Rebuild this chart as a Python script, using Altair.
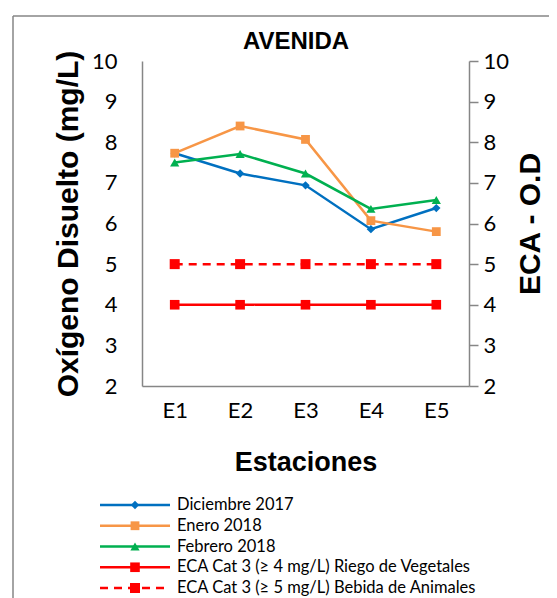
import altair as alt
import pandas as pd

stations = ["E1", "E2", "E3", "E4", "E5"]
series = ["Diciembre 2017", "Enero 2018", "Febrero 2018",
          "ECA Cat 3 (≥ 4 mg/L) Riego de Vegetales",
          "ECA Cat 3 (≥ 5 mg/L) Bebida de Animales"]
legend_labels = ["Diciembre 2017", "\u00a0Enero 2018", "Febrero 2018",
                 "ECA Cat 3 (≥ 4 mg/L) Riego de Vegetales",
                 "ECA Cat 3 (≥ 5 mg/L) Bebida de Animales"]
diciembre = [7.73, 7.23, 6.94, 5.86, 6.38]
enero = [7.73, 8.40, 8.07, 6.07, 5.80]
febrero = [7.50, 7.71, 7.23, 6.36, 6.58]
eca_riego = [4, 4, 4, 4, 4]
eca_bebida = [5, 5, 5, 5, 5]
chart_title = ["AVENIDA"]

colors = ["#0070C0", "#F79646", "#00B050", "#FF0000", "#FF0000"]
shapes = ["diamond", "square", "triangle-up", "square", "square"]
sizes = [70, 100, 95, 100, 100]
dashes = [[1, 0], [1, 0], [1, 0], [1, 0], [8, 6]]

rows = []
for name, vals in zip(series[:3], [diciembre, enero, febrero]):
    for s, v in zip(stations, vals):
        rows.append({"serie": name, "estacion": s, "valor": v})
df_m = pd.DataFrame(rows)
rows = []
for name, vals in zip(series[3:], [eca_riego, eca_bebida]):
    for s, v in zip(stations, vals):
        rows.append({"serie": name, "estacion": s, "valor": v})
df_e = pd.DataFrame(rows)
df_leg = pd.DataFrame({"serie": series, "label": legend_labels})

GRAY = "#868686"
TF = "Liberation Sans"
LF = "Lato"

color = alt.Color("serie:N", scale=alt.Scale(domain=series, range=colors), legend=None)
shape = alt.Shape("serie:N", scale=alt.Scale(domain=series, range=shapes), legend=None)
size = alt.Size("serie:O", scale=alt.Scale(domain=series, range=sizes), legend=None)
dash = alt.StrokeDash("serie:N", scale=alt.Scale(domain=series, range=dashes), legend=None)

x = alt.X("estacion:N", sort=stations, scale=alt.Scale(domain=stations),
          axis=alt.Axis(title="Estaciones", labelAngle=0, ticks=False, tickSize=0,
                        domainColor=GRAY, domainWidth=1.5, labelFont=LF, labelFontSize=22,
                        labelColor="black", labelPadding=14, titleFont=TF, titleFontSize=27,
                        titleFontWeight="bold", titleColor="black", titlePadding=28,
                        grid=False))

left_axis = alt.Axis(title="Oxígeno Disuelto (mg/L)", values=list(range(2, 11)), grid=False,
                     ticks=False, tickSize=0, domainColor=GRAY, domainWidth=1.5,
                     labelFont=LF, labelFontSize=22, labelColor="black", labelPadding=25,
                     titleFont=TF, titleFontSize=30, titleFontWeight="bold",
                     titleColor="black", titlePadding=8)
right_axis = alt.Axis(title="ECA - O.D", orient="right", values=list(range(2, 11)), grid=False,
                      ticks=True, tickSize=9, tickColor=GRAY, tickWidth=1.5,
                      domainColor=GRAY, domainWidth=1.5,
                      labelFont=LF, labelFontSize=22, labelColor="black", labelPadding=5,
                      titleFont=TF, titleFontSize=30, titleFontWeight="bold",
                      titleColor="black", titlePadding=7, titleAngle=270,
                      titleBaseline="top")

ym = alt.Y("valor:Q", scale=alt.Scale(domain=[2, 10], nice=False, zero=False), axis=left_axis)
ye = alt.Y("valor:Q", scale=alt.Scale(domain=[2, 10], nice=False, zero=False), axis=right_axis)

bm = alt.Chart(df_m).encode(x=x, y=ym, color=color)
monthly = alt.layer(
    bm.mark_line(strokeWidth=2.5),
    bm.mark_point(filled=True, opacity=1).encode(shape=shape, size=size),
)
be = alt.Chart(df_e).encode(x=x, y=ye, color=color)
eca = alt.layer(
    be.mark_line(strokeWidth=2.5).encode(strokeDash=dash),
    be.mark_point(filled=True, opacity=1).encode(shape=shape, size=size),
)

yl = alt.Y("serie:N", sort=series, axis=None,
           scale=alt.Scale(type="point", domain=series, range=[444, 527], padding=0))
bl = alt.Chart(df_leg).encode(y=yl, color=color)
legend = alt.layer(
    bl.mark_rule(strokeWidth=2.5).encode(x=alt.value(-42), x2=alt.value(28), strokeDash=dash),
    bl.mark_point(filled=True, opacity=1).encode(x=alt.value(-7), shape=shape, size=size),
    bl.mark_text(align="left", baseline="middle", font=LF, fontSize=16.5, color="black")
      .encode(x=alt.value(35), text="label:N", color=alt.value("black")),
)

one = pd.DataFrame({"k": [0]})
ttl = pd.DataFrame({"t": chart_title})
frame = alt.layer(
    alt.Chart(one).mark_rule(color=GRAY, strokeWidth=1.5).encode(
        x=alt.value(-129), x2=alt.value(500), y=alt.value(-45)),
    alt.Chart(one).mark_rule(color=GRAY, strokeWidth=1.5).encode(
        x=alt.value(-129), y=alt.value(-45), y2=alt.value(600)),
    alt.Chart(ttl).mark_text(font=TF, fontSize=24, fontWeight="bold", color="black",
                             align="center", baseline="alphabetic").encode(
        x=alt.value(154), y=alt.value(-12), text="t:N"),
)

chart = alt.layer(monthly, eca, legend, frame).resolve_scale(
    y="independent", color="shared"
).properties(
    width=327, height=325,
    autosize=alt.AutoSizeParams(type="none"),
    padding={"left": 134, "top": 53, "right": 80, "bottom": 212},
).configure_view(stroke=None)

chart.save("out.html", embed_options={"renderer": "svg", "actions": False})
